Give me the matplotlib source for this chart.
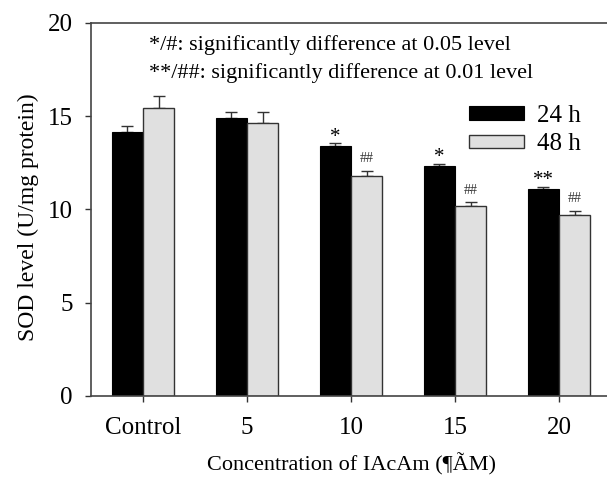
import numpy as np
import matplotlib
matplotlib.use("Agg")
import matplotlib.pyplot as plt

plt.rcParams['font.family'] = ['Liberation Serif', 'DejaVu Serif']

# data
groups = ["Control", "5", "10", "15", "20"]
sod_24h = [14.15, 14.93, 13.39, 12.35, 11.10]
err_24h = [0.30, 0.30, 0.16, 0.11, 0.12]
sod_48h = [15.43, 14.62, 11.78, 10.20, 9.72]
err_48h = [0.67, 0.60, 0.30, 0.18, 0.21]
marks_24h = ["", "", "*", "*", "**"]
marks_48h = ["", "", "##", "##", "##"]
note_lines = ["*/#: significantly difference at 0.05 level",
              "**/##: significantly difference at 0.01 level"]

fig = plt.figure(figsize=(6.07, 4.79), dpi=100)
ax = fig.add_axes([0.15, 0.1733, 0.8566, 0.7787])

x = np.arange(len(groups))
w = 0.30
edge = '#333333'

ax.bar(x - w/2, sod_24h, w, color='black', edgecolor='black', linewidth=0.8,
       label='24 h', zorder=2)
ax.bar(x + w/2, sod_48h, w, color='#e0e0e0', edgecolor=edge, linewidth=1.0,
       label='48 h', zorder=2)
ax.errorbar(x - w/2, sod_24h, yerr=[np.zeros(len(x)), err_24h], fmt='none',
            ecolor=edge, elinewidth=1.0, capsize=4, capthick=1.0, zorder=1)
ax.errorbar(x + w/2, sod_48h, yerr=[np.zeros(len(x)), err_48h], fmt='none',
            ecolor=edge, elinewidth=1.0, capsize=4, capthick=1.0, zorder=1)

# significance marks
for i in range(len(x)):
    if marks_24h[i]:
        ax.text(x[i] - w/2, sod_24h[i] + err_24h[i] - 0.2, marks_24h[i],
                ha='center', va='bottom', fontsize=15)
    if marks_48h[i]:
        ax.text(x[i] + w/2, sod_48h[i] + err_48h[i] + 0.3, marks_48h[i],
                ha='center', va='bottom', fontsize=10, color='#333333')

ax.text(0.06, 18.82, note_lines[0], ha='left', va='center', fontsize=16)
ax.text(0.06, 17.32, note_lines[1], ha='left', va='center', fontsize=16)

ax.set_xlim(-0.5, 4.5)
ax.set_ylim(0, 20)
ax.set_xticks(x)
ax.set_xticklabels(groups)
ax.set_yticks([0, 5, 10, 15, 20])
ax.tick_params(axis='both', direction='out', length=4, width=1.0,
               colors='#333333', labelcolor='black', labelsize=18)
ax.tick_params(axis='y', pad=9)
ax.tick_params(axis='x', pad=11)

for s in ax.spines.values():
    s.set_color('#444444')
    s.set_linewidth(1.2)

ax.set_xlabel("Concentration of IAcAm (¶ÃM)", fontsize=16)
ax.set_ylabel("SOD level (U/mg protein)", fontsize=17)
ax.xaxis.set_label_coords(0.5, -0.152)
ax.yaxis.set_label_coords(-0.1, 0.48)

ax.legend(loc='upper left', bbox_to_anchor=(0.708, 0.807), frameon=False,
          fontsize=18, handlelength=2.2, handleheight=0.45,
          handletextpad=0.5, labelspacing=0.25, borderaxespad=0)

fig.savefig("out.png", dpi=100)
